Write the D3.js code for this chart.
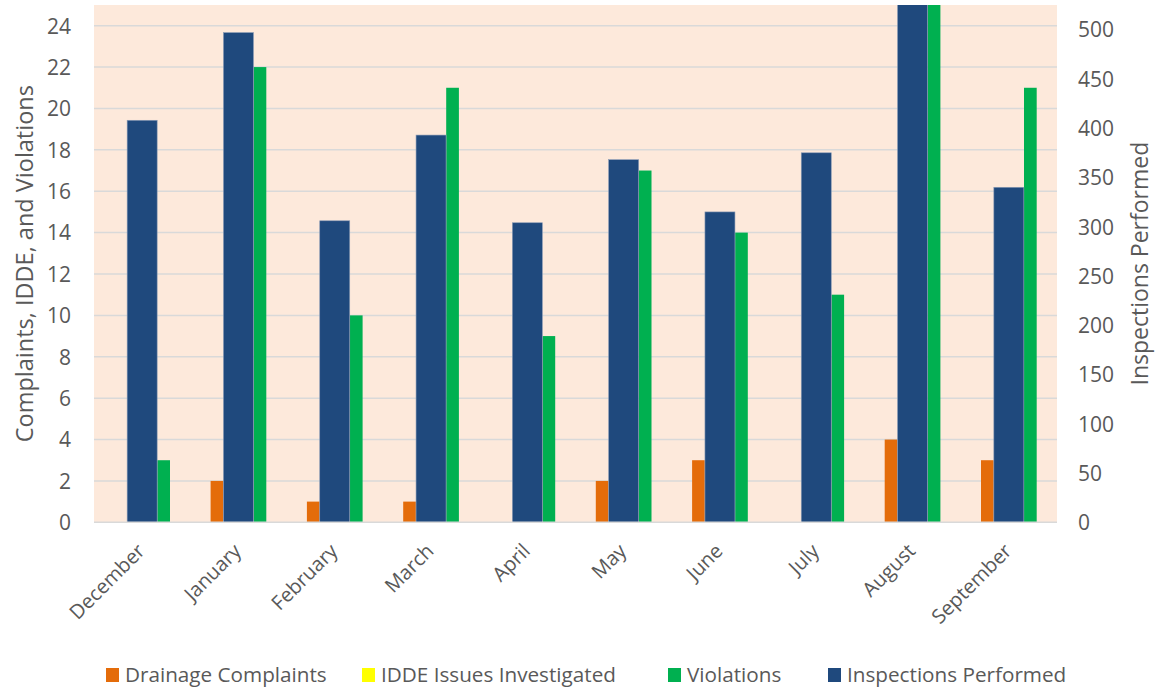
<!DOCTYPE html>
<html><head><meta charset="utf-8">
<script src="https://cdn.jsdelivr.net/npm/d3@7"></script>
<style>body{margin:0;background:#fff;}svg{display:block;font-family:"Open Sans",sans-serif;}</style>
</head><body>
<svg id="c" width="1155" height="691"></svg>
<script>
const categories = ["December","January","February","March","April","May","June","July","August","September"];
const drainage = [0,2,1,1,0,2,3,0,4,3];
const idde = [0,0,0,0,0,0,0,0,0,0];
const violations = [3,22,10,21,9,17,14,11,26,21];
const inspections = [408,497,306,393,304,368,315,375,540,340];
const leftTicks = [0,2,4,6,8,10,12,14,16,18,20,22,24];
const rightTicks = [0,50,100,150,200,250,300,350,400,450,500];
const seriesNames = ["Drainage Complaints","IDDE Issues Investigated","Violations","Inspections Performed"];
const colors = ["#e46c0a","#ffff00","#00b050","#1f497d"];

const svg = d3.select("#c");
const L=94, R=1057, T=5, B=522.3;
const x = d3.scaleBand().domain(categories).range([L,R]).padding(0);
const yL = d3.scaleLinear().domain([0,25]).range([B,T]);
const yR = d3.scaleLinear().domain([0,525]).range([B,T]);
const txt="#595959";

svg.append("rect").attr("x",L).attr("y",T).attr("width",R-L).attr("height",B-T).attr("fill","#fde9db");
svg.append("defs").append("clipPath").attr("id","clip").append("rect").attr("x",L).attr("y",T).attr("width",R-L).attr("height",B-T);

// gridlines
svg.append("g").selectAll("line").data(leftTicks.filter(d=>d>0)).join("line")
  .attr("x1",L).attr("x2",R).attr("y1",d=>yL(d)).attr("y2",d=>yL(d))
  .attr("stroke","#d9d9d9").attr("stroke-width",1.5);

const g = svg.append("g").attr("clip-path","url(#clip)");
const primary = [drainage, idde, violations];
const bw = 12.7, step = 21.5;
primary.forEach((arr,si)=>{
  g.append("g").selectAll("rect").data(arr).join("rect")
    .attr("x",(d,i)=>x(categories[i])+x.bandwidth()/2+(si-1)*step-bw/2)
    .attr("width",bw)
    .attr("y",d=>yL(d)).attr("height",d=>B-yL(d))
    .attr("fill",colors[si]);
});
// secondary
const bw2 = 30;
g.append("g").selectAll("rect").data(inspections).join("rect")
  .attr("x",(d,i)=>x(categories[i])+x.bandwidth()/2-bw2/2)
  .attr("width",bw2)
  .attr("y",d=>yR(d)).attr("height",d=>B-yR(d))
  .attr("fill",colors[3]).attr("stroke","#8a9bb5").attr("stroke-width",0.6);

// baseline
svg.append("line").attr("x1",L).attr("x2",R).attr("y1",B).attr("y2",B).attr("stroke","#d9d9d9").attr("stroke-width",1.5);

// left axis
const axL = d3.axisLeft(yL).tickValues(leftTicks).tickSize(0).tickPadding(0);
const gl = svg.append("g").attr("transform",`translate(71,0)`).call(axL);
gl.select(".domain").remove();
gl.selectAll("text").attr("fill",txt).style("font-size","21px").attr("font-family","Open Sans").attr("dy","0.35em");

const axR = d3.axisRight(yR).tickValues(rightTicks).tickSize(0).tickPadding(0);
const gr = svg.append("g").attr("transform",`translate(1078,0)`).call(axR);
gr.select(".domain").remove();
gr.selectAll("text").attr("fill",txt).style("font-size","21px").attr("font-family","Open Sans").attr("dy","0.35em");

// x axis labels
const ax = d3.axisBottom(x).tickSize(0).tickPadding(0);
const gx = svg.append("g").attr("transform",`translate(0,${B})`).call(ax);
gx.select(".domain").remove();
gx.selectAll("text").attr("fill",txt).style("font-size","20px").attr("font-family","Open Sans")
  .attr("text-anchor","end").attr("dy",0).attr("y",0)
  .attr("transform","translate(4,30) rotate(-45)");

// axis titles
svg.append("text").attr("transform",`translate(33,${(T+B)/2}) rotate(-90)`).attr("text-anchor","middle")
  .attr("fill",txt).style("font-size","23.5px").text("Complaints, IDDE, and Violations");
svg.append("text").attr("transform",`translate(1148,${(T+B)/2}) rotate(-90)`).attr("text-anchor","middle")
  .attr("fill",txt).style("font-size","23px").text("Inspections Performed");

// legend
const legX = [106, 362, 668, 828];
const lg = svg.append("g");
seriesNames.forEach((n,i)=>{
  lg.append("rect").attr("x",legX[i]).attr("y",668).attr("width",13).attr("height",14).attr("fill",colors[i]);
  lg.append("text").attr("x",legX[i]+19).attr("y",675).attr("dy","0.35em").attr("fill",txt)
    .style("font-size","20.7px").text(n);
});
</script>
</body></html>
